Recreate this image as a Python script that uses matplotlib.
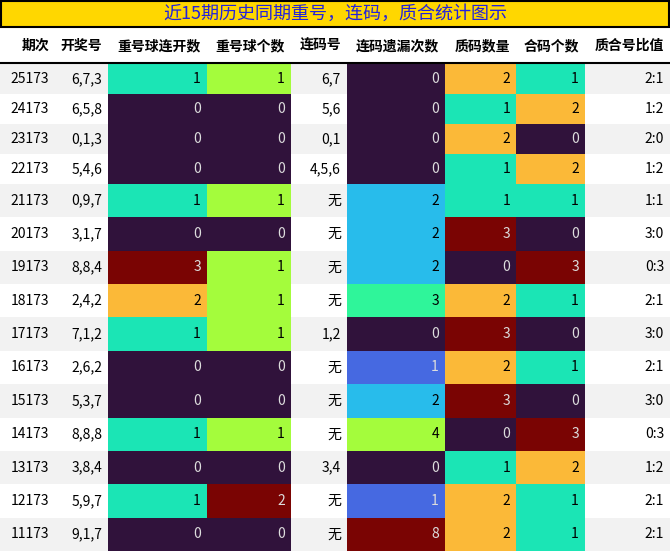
import matplotlib.pyplot as plt
from matplotlib.patches import Rectangle

plt.rcParams['font.family'] = ['Noto Sans CJK SC', 'DejaVu Sans']

title = '近15期历史同期重号，连码，质合统计图示'
headers = ['期次', '开奖号', '重号球连开数', '重号球个数', '连码号', '连码遗漏次数', '质码数量', '合码个数', '质合号比值']
periods = ['25173', '24173', '23173', '22173', '21173', '20173', '19173', '18173', '17173',
           '16173', '15173', '14173', '13173', '12173', '11173']
draws = ['6,7,3', '6,5,8', '0,1,3', '5,4,6', '0,9,7', '3,1,7', '8,8,4', '2,4,2', '7,1,2',
         '2,6,2', '5,3,7', '8,8,8', '3,8,4', '5,9,7', '9,1,7']
repeat_run = [1, 0, 0, 0, 1, 0, 3, 2, 1, 0, 0, 1, 0, 1, 0]
repeat_cnt = [1, 0, 0, 0, 1, 0, 1, 1, 1, 0, 0, 1, 0, 2, 0]
consec = ['6,7', '5,6', '0,1', '4,5,6', '无', '无', '无', '无', '1,2', '无', '无', '无', '3,4', '无', '无']
consec_miss = [0, 0, 0, 0, 2, 2, 2, 3, 0, 1, 2, 4, 0, 1, 8]
prime_cnt = [2, 1, 2, 1, 1, 3, 0, 2, 3, 2, 3, 0, 1, 2, 2]
comp_cnt = [1, 2, 0, 2, 1, 0, 3, 1, 0, 1, 0, 3, 2, 1, 1]
ratio = ['2:1', '1:2', '2:0', '1:2', '1:1', '3:0', '0:3', '2:1', '3:0', '2:1', '3:0', '0:3', '1:2', '2:1', '2:1']

PURPLE, TEAL, LIME, RED, ORANGE = '#30123b', '#1be5b5', '#a4fc3c', '#7a0403', '#fbb938'
SKY, GREEN, BLUE = '#28bceb', '#2ff59a', '#4669e1'
cmaps = {
    2: {0: PURPLE, 1: TEAL, 2: ORANGE, 3: RED},
    3: {0: PURPLE, 1: LIME, 2: RED},
    5: {0: PURPLE, 1: BLUE, 2: SKY, 3: GREEN, 4: LIME, 8: RED},
    6: {0: PURPLE, 1: TEAL, 2: ORANGE, 3: RED},
    7: {0: PURPLE, 1: TEAL, 2: ORANGE, 3: RED},
}
dark = {PURPLE, RED, BLUE}

W, H = 670, 551
col_x = [0, 55, 108, 207, 291, 347, 445, 516, 585, 670]
row_h = [30] * 4 + [33.36] * 11

fig = plt.figure(figsize=(W / 100, H / 100), dpi=100)
ax = fig.add_axes([0, 0, 1, 1])
ax.set_xlim(0, W)
ax.set_ylim(H, 0)
ax.axis('off')

ax.add_patch(Rectangle((1, 1), W - 2, 26, facecolor='#ffd700', edgecolor='black', lw=1.5))
ax.text(W / 2, 14, title, ha='center', va='center', color='#2222dd', fontsize=13)

for j, h in enumerate(headers):
    ax.text(col_x[j + 1] - 6, 46, h, ha='right', va='center', fontsize=10, fontweight='bold')
ax.plot([0, W], [63, 63], color='black', lw=1.5)

cols = [periods, draws, repeat_run, repeat_cnt, consec, consec_miss, prime_cnt, comp_cnt, ratio]
y = 64
for i in range(len(periods)):
    h = row_h[i]
    bg = '#f2f2f2' if i % 2 == 0 else 'white'
    ax.add_patch(Rectangle((0, y), W, h, facecolor=bg, edgecolor='none'))
    for j, col in enumerate(cols):
        v = col[i]
        tc = 'black'
        if j in cmaps:
            c = cmaps[j][v]
            ax.add_patch(Rectangle((col_x[j], y), col_x[j + 1] - col_x[j], h, facecolor=c, edgecolor='none'))
            tc = '#dddddd' if c in dark else 'black'
        ax.text(col_x[j + 1] - 6, y + h / 2, str(v), ha='right', va='center', fontsize=10, color=tc)
    y += h

fig.savefig('out.png', dpi=100)
